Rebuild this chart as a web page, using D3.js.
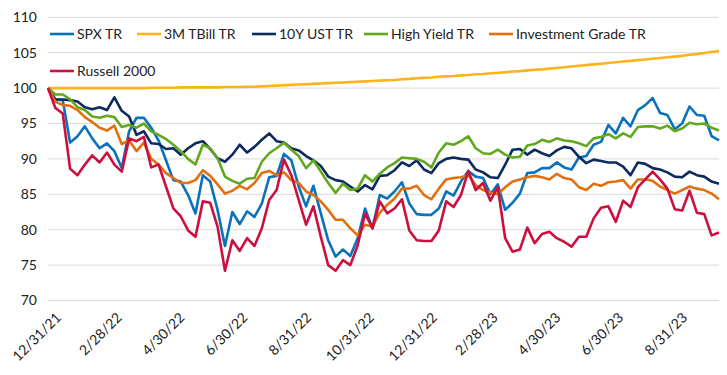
<!DOCTYPE html>
<html>
<head>
<meta charset="utf-8">
<script src="https://cdn.jsdelivr.net/npm/d3@7"></script>
<style>
  body { margin: 0; background: #fff; }
  text { font-family: Lato, "Open Sans", sans-serif; fill: #222; }
</style>
</head>
<body>
<svg id="chart"></svg>
<script>
// weekly values, first week = 12/31/21, indexed to 100
const startDate = "2021-12-31";

const spx = [100, 98.4, 98.3, 92.3, 93.2, 94.6, 92.9, 91.5, 92.2, 91.1,
  88.7, 93.9, 95.8, 95.8, 94.4, 92.6, 89.8, 87.0, 86.8, 84.9,
  82.3, 87.7, 86.8, 82.8, 77.7, 82.5, 80.8, 82.6, 81.8, 83.7,
  87.4, 87.6, 90.7, 89.8, 86.1, 83.3, 86.2, 82.3, 78.5, 76.2,
  77.2, 76.3, 78.8, 83.0, 80.2, 84.9, 84.4, 85.4, 86.7, 83.7,
  82.2, 82.1, 82.1, 83.0, 85.4, 84.8, 86.8, 88.3, 87.5, 87.3,
  85.0, 86.4, 82.8, 83.8, 85.1, 88.0, 88.1, 88.7, 88.7, 89.5,
  88.8, 88.5, 90.2, 90.4, 92.0, 92.4, 94.8, 93.6, 95.8, 94.6,
  96.9, 97.6, 98.6, 96.5, 96.2, 94.2, 95.0, 97.4, 96.2, 96.1,
  93.2, 92.6];

const tbill = [100.0, 100.0, 100.0, 100.0, 100.0, 100.0, 100.0, 100.0, 100.0, 100.0,
  100.0, 100.0, 100.0, 100.0, 100.05, 100.05, 100.05, 100.05, 100.1, 100.1,
  100.1, 100.1, 100.1, 100.1, 100.15, 100.15, 100.15, 100.2, 100.2, 100.25,
  100.3, 100.35, 100.4, 100.45, 100.5, 100.55, 100.6, 100.65, 100.7, 100.75,
  100.8, 100.85, 100.9, 100.95, 101.0, 101.05, 101.1, 101.15, 101.25, 101.3,
  101.4, 101.45, 101.5, 101.6, 101.65, 101.7, 101.8, 101.85, 101.95, 102.0,
  102.1, 102.15, 102.25, 102.35, 102.4, 102.5, 102.6, 102.65, 102.75, 102.85,
  102.95, 103.05, 103.15, 103.25, 103.35, 103.45, 103.55, 103.65, 103.75, 103.85,
  103.95, 104.05, 104.15, 104.25, 104.35, 104.45, 104.55, 104.7, 104.8, 104.95,
  105.1, 105.25];

const ust10y = [100, 98.4, 98.4, 98.3, 98.1, 97.3, 97.0, 97.3, 96.9, 98.7,
  96.8, 96.0, 93.4, 93.9, 92.2, 92.1, 91.4, 91.5, 90.6, 91.5,
  92.2, 92.5, 91.4, 90.1, 89.6, 90.6, 92.0, 90.9, 91.7, 92.7,
  93.6, 92.5, 92.3, 91.5, 91.2, 90.4, 89.8, 89.0, 87.5, 87.0,
  86.8, 86.1, 85.4, 86.3, 85.7, 87.6, 87.7, 88.4, 89.5, 89.0,
  89.8, 88.5, 88.0, 89.4, 90.0, 90.2, 90.0, 89.9, 88.5, 88.1,
  87.4, 87.3, 89.2, 91.3, 91.4, 90.6, 91.3, 90.8, 90.4, 91.2,
  91.7, 91.5, 90.3, 89.4, 89.9, 89.7, 89.5, 89.5, 88.9, 87.7,
  89.5, 89.3, 88.7, 88.5, 88.1, 87.5, 87.4, 88.2, 87.7, 87.5,
  86.8, 86.5];

const highYield = [100, 99.1, 99.1, 98.4, 97.3, 96.9, 96.0, 95.8, 96.1, 95.9,
  94.5, 94.8, 94.4, 95.0, 93.9, 93.4, 92.8, 92.0, 91.1, 90.0,
  89.2, 92.0, 91.5, 90.1, 87.5, 86.9, 86.5, 87.2, 87.3, 89.6,
  90.8, 91.5, 92.3, 91.3, 90.4, 88.7, 89.8, 88.2, 86.6, 85.2,
  86.5, 85.6, 85.8, 87.7, 86.8, 87.9, 88.8, 89.4, 90.2, 90.1,
  90.0, 89.6, 88.8, 90.9, 92.2, 92.0, 92.5, 93.2, 91.5, 90.8,
  90.7, 91.3, 90.6, 90.2, 90.3, 91.9, 92.1, 92.7, 92.4, 92.9,
  92.6, 92.5, 92.2, 91.8, 92.9, 93.1, 93.5, 92.9, 93.6, 93.1,
  94.5, 94.6, 94.6, 94.3, 94.7, 93.9, 94.3, 95.1, 94.9, 95.0,
  94.4, 94.0];

const invGrade = [100, 98.1, 97.6, 97.5, 96.9, 95.9, 95.2, 94.4, 94.0, 94.7,
  92.1, 92.6, 91.1, 92.3, 90.0, 89.2, 88.0, 87.3, 86.6, 86.6,
  87.0, 88.4, 87.6, 86.4, 85.1, 85.5, 86.2, 85.7, 86.6, 88.0,
  88.3, 87.7, 88.1, 87.0, 86.6, 85.4, 84.9, 84.0, 82.8, 81.4,
  81.4, 80.2, 79.2, 80.7, 80.4, 82.4, 83.5, 84.4, 85.8, 85.8,
  86.2, 84.9, 84.3, 85.8, 87.1, 87.3, 87.4, 87.7, 86.3, 85.6,
  85.2, 85.0, 86.0, 86.8, 87.1, 87.4, 87.6, 87.4, 87.1, 87.9,
  87.3, 87.1, 86.0, 85.6, 86.5, 86.2, 86.7, 86.8, 87.0, 85.8,
  87.1, 87.1, 86.9, 86.1, 85.6, 85.1, 85.6, 86.1, 85.8, 85.6,
  85.1, 84.3];

const russell = [100, 97.2, 96.4, 88.6, 87.7, 89.2, 90.5, 89.5, 90.9, 89.2,
  88.2, 92.9, 92.5, 93.1, 88.8, 89.2, 86.1, 83.0, 81.9, 79.9,
  79.0, 84.0, 83.8, 80.4, 74.2, 78.5, 77.0, 78.8, 77.7, 80.2,
  84.2, 85.6, 89.9, 87.7, 84.2, 80.7, 83.3, 79.0, 75.0, 74.2,
  75.7, 75.0, 77.8, 82.3, 80.2, 84.0, 82.3, 83.0, 84.3, 79.9,
  78.5, 78.4, 78.4, 79.9, 84.0, 83.2, 84.9, 88.3, 85.6, 86.6,
  84.1, 86.0, 78.8, 76.9, 77.2, 80.3, 78.1, 79.4, 79.7, 78.8,
  78.3, 77.6, 79.0, 79.0, 81.6, 83.1, 83.3, 81.1, 84.1, 83.2,
  86.0, 87.1, 88.2, 87.1, 85.8, 82.9, 82.7, 85.5, 82.4, 82.2,
  79.2, 79.6];

const seriesNames = ["SPX TR", "3M TBill TR", "10Y UST TR", "High Yield TR", "Investment Grade TR", "Russell 2000"];
const seriesValues = [spx, tbill, ust10y, highYield, invGrade, russell];
const seriesColors = ["#0a72ba", "#fdb41b", "#0d2a5e", "#62a81f", "#e2700f", "#cc0f3f"];

const tickLabels = ["12/31/21", "2/28/22", "4/30/22", "6/30/22", "8/31/22", "10/31/22",
  "12/31/22", "2/28/23", "4/30/23", "6/30/23", "8/31/23"];
const yTicks = [70, 75, 80, 85, 90, 95, 100, 105, 110];

const width = 727, height = 375;
const margin = {top: 17.3, right: 8, bottom: 74.5, left: 48};

const svg = d3.select("#chart").attr("width", width).attr("height", height);

const parseTick = d3.timeParse("%m/%d/%y");
const start = d3.timeParse("%Y-%m-%d")(startDate);
const dates = spx.map((d, i) => d3.timeWeek.offset(start, i));

const x = d3.scaleTime()
  .domain([dates[0], dates[dates.length - 1]])
  .range([margin.left, width - margin.right]);

// labels in the source sit a little right of their dates
const xLabel = d3.scaleTime()
  .domain(x.domain())
  .range([margin.left + 14, width - margin.right - 1]);

const y = d3.scaleLinear()
  .domain([70, 110])
  .range([height - margin.bottom, margin.top]);

// gridlines
svg.append("g")
  .selectAll("line")
  .data(yTicks)
  .join("line")
  .attr("x1", margin.left)
  .attr("x2", width - margin.right)
  .attr("y1", d => y(d))
  .attr("y2", d => y(d))
  .attr("stroke", "#d9d9d9")
  .attr("stroke-width", 1);

// y axis labels
const yAxis = d3.axisLeft(y).tickValues(yTicks).tickSize(0).tickPadding(11);
svg.append("g")
  .attr("transform", `translate(${margin.left},0)`)
  .call(yAxis)
  .call(g => g.select(".domain").remove())
  .selectAll("text")
  .style("font-family", "Lato, sans-serif")
  .style("font-size", "14px")
  .attr("fill", "#222");

// x axis labels, rotated
svg.append("g")
  .selectAll("text")
  .data(tickLabels)
  .join("text")
  .attr("transform", d => `translate(${xLabel(parseTick(d))},${height - margin.bottom + 18}) rotate(-45)`)
  .attr("text-anchor", "end")
  .style("font-size", "14px")
  .text(d => d);

// lines
const line = d3.line()
  .x((d, i) => x(dates[i]))
  .y(d => y(d));

svg.append("g")
  .selectAll("path")
  .data(seriesValues)
  .join("path")
  .attr("d", d => line(d))
  .attr("fill", "none")
  .attr("stroke", (d, i) => seriesColors[i])
  .attr("stroke-width", 2.6)
  .attr("stroke-linejoin", "round");

// legend
const legendPos = [[50, 34], [137, 34], [252, 34], [364, 34], [489, 34], [50, 71]];
const legend = svg.append("g")
  .selectAll("g")
  .data(seriesNames)
  .join("g")
  .attr("transform", (d, i) => `translate(${legendPos[i][0]},${legendPos[i][1]})`);

legend.append("line")
  .attr("x1", 0).attr("x2", 24)
  .attr("stroke", (d, i) => seriesColors[i])
  .attr("stroke-width", 2.6);

legend.append("text")
  .attr("x", 27)
  .attr("y", 5)
  .style("font-size", "14px")
  .text(d => d);
</script>
</body>
</html>
